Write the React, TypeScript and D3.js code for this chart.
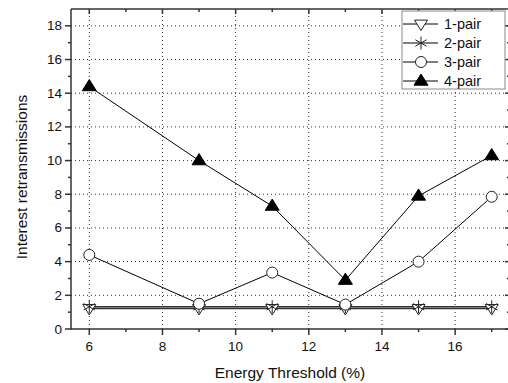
import React from "react";
import * as d3 from "d3";

const xValues = [6, 9, 11, 13, 15, 17];
const pair1 = [1.22, 1.22, 1.22, 1.22, 1.22, 1.22];
const pair2 = [1.32, 1.32, 1.32, 1.32, 1.32, 1.32];
const pair3 = [4.4, 1.5, 3.35, 1.45, 4.0, 7.85];
const pair4 = [14.4, 10.0, 7.3, 2.9, 7.9, 10.3];
const seriesNames = ["1-pair", "2-pair", "3-pair", "4-pair"];
const xTicks = [6, 8, 10, 12, 14, 16];
const xMinor = [7, 9, 11, 13, 15, 17];
const yTicks = [0, 2, 4, 6, 8, 10, 12, 14, 16, 18];
const yMinor = [1, 3, 5, 7, 9, 11, 13, 15, 17];

const W = 508;
const H = 383;
const font = "Arial, 'Liberation Sans', sans-serif";

function Marker({ kind, x, y }: { kind: string; x: number; y: number }) {
  if (kind === "1-pair") {
    const s = 6.5;
    return (
      <path
        d={`M${x - s},${y - s * 0.6} L${x + s},${y - s * 0.6} L${x},${y + s * 1.0} Z`}
        fill="white"
        stroke="#222"
        strokeWidth={1}
      />
    );
  }
  if (kind === "2-pair") {
    const r = 6.5;
    const segs = [0, 60, 120].map((a) => {
      const rad = (a * Math.PI) / 180 + Math.PI / 2;
      const dx = Math.cos(rad) * r;
      const dy = Math.sin(rad) * r;
      return `M${x - dx},${y - dy} L${x + dx},${y + dy}`;
    });
    return <path d={segs.join(" ")} stroke="#222" strokeWidth={1} fill="none" />;
  }
  if (kind === "3-pair") {
    return <circle cx={x} cy={y} r={5.5} fill="white" stroke="#222" strokeWidth={1} />;
  }
  const s = 7;
  return (
    <path
      d={`M${x - s},${y + s * 0.6} L${x + s},${y + s * 0.6} L${x},${y - s * 1.0} Z`}
      fill="black"
      stroke="black"
      strokeWidth={1}
    />
  );
}

export default function App() {
  const xScale = d3.scaleLinear().domain([5.5, 17.5]).range([71, 510]);
  const yScale = d3.scaleLinear().domain([0, 19]).range([329, 9]);
  const x0 = xScale(5.5);
  const x1 = xScale(17.5);
  const yb = yScale(0);
  const yt = yScale(19);

  const allSeries = [pair1, pair2, pair3, pair4];
  const line = d3
    .line<number>()
    .x((_, i) => xScale(xValues[i]))
    .y((d) => yScale(d));

  return (
    <svg
      width={W}
      height={H}
      style={{ position: "absolute", left: 0, top: 0, background: "white" }}
      fontFamily={font}
    >
      <rect x={0} y={0} width={W} height={H} fill="white" />
      {/* grid */}
      {xTicks.map((t) => (
        <line
          key={"gx" + t}
          x1={xScale(t)}
          x2={xScale(t)}
          y1={yb}
          y2={yt}
          stroke="#333"
          strokeWidth={1}
          strokeDasharray="1,3"
        />
      ))}
      {yTicks
        .filter((t) => t > 0)
        .map((t) => (
          <line
            key={"gy" + t}
            x1={x0}
            x2={x1}
            y1={yScale(t)}
            y2={yScale(t)}
            stroke="#333"
            strokeWidth={1}
            strokeDasharray="1,3"
          />
        ))}
      {/* series lines */}
      {allSeries.map((s, i) => (
        <path key={"l" + i} d={line(s) || ""} fill="none" stroke={i < 2 ? "#333" : "black"} strokeWidth={i < 2 ? 1.5 : 1} />
      ))}
      {allSeries.map((s, i) =>
        s.map((v, j) => (
          <Marker key={"m" + i + "-" + j} kind={seriesNames[i]} x={xScale(xValues[j])} y={yScale(v)} />
        ))
      )}
      {/* frame */}
      <line x1={x0} x2={x0} y1={yt} y2={yb + 0.5} stroke="#333" strokeWidth={1.5} />
      <line x1={x0} x2={x1} y1={yb} y2={yb} stroke="#333" strokeWidth={1.5} />
      <line x1={x0} x2={x1} y1={yt} y2={yt} stroke="#333" strokeWidth={1.5} />
      {/* bottom ticks */}
      {xTicks.map((t) => (
        <g key={"xt" + t}>
          <line x1={xScale(t)} x2={xScale(t)} y1={yb} y2={yb + 6} stroke="#333" strokeWidth={1.5} />
          <line x1={xScale(t)} x2={xScale(t)} y1={yt} y2={yt + 5} stroke="#333" strokeWidth={1.5} />
          <text x={xScale(t)} y={yb + 22} textAnchor="middle" fontSize={13.5} fill="#111">
            {t}
          </text>
        </g>
      ))}
      {xMinor.map((t) => (
        <g key={"xm" + t}>
          <line x1={xScale(t)} x2={xScale(t)} y1={yb} y2={yb + 3} stroke="#333" strokeWidth={1.5} />
          <line x1={xScale(t)} x2={xScale(t)} y1={yt} y2={yt + 3} stroke="#333" strokeWidth={1.5} />
        </g>
      ))}
      {/* left ticks */}
      {yTicks.map((t) => (
        <g key={"yt" + t}>
          <line x1={x0 - 6} x2={x0} y1={yScale(t)} y2={yScale(t)} stroke="#333" strokeWidth={1.5} />
          <line x1={x1 - 5} x2={x1} y1={yScale(t)} y2={yScale(t)} stroke="#333" strokeWidth={1.5} />
          <text x={x0 - 9} y={yScale(t) + 4.5} textAnchor="end" fontSize={13.5} fill="#111">
            {t}
          </text>
        </g>
      ))}
      {yMinor.map((t) => (
        <g key={"ym" + t}>
          <line x1={x0 - 3} x2={x0} y1={yScale(t)} y2={yScale(t)} stroke="#333" strokeWidth={1.5} />
          <line x1={x1 - 3} x2={x1} y1={yScale(t)} y2={yScale(t)} stroke="#333" strokeWidth={1.5} />
        </g>
      ))}
      {/* axis titles */}
      <text x={290} y={378} textAnchor="middle" fontSize={15.5} fill="#111">
        Energy Threshold (%)
      </text>
      <text
        transform={`translate(26.5, 177) rotate(-90)`}
        textAnchor="middle"
        fontSize={15.5}
        fill="#111"
      >
        Interest retransmissions
      </text>
      {/* legend */}
      <rect x={402} y={11} width={103} height={78} fill="white" stroke="#888" strokeWidth={1} />
      {seriesNames.map((n, i) => {
        const y = 24 + i * 19;
        return (
          <g key={"lg" + n}>
            <line x1={403} x2={438} y1={y} y2={y} stroke="black" strokeWidth={1} />
            <Marker kind={n} x={421} y={y} />
            <text x={444} y={y + 5} fontSize={14.5} fill="#111">
              {n}
            </text>
          </g>
        );
      })}
    </svg>
  );
}
